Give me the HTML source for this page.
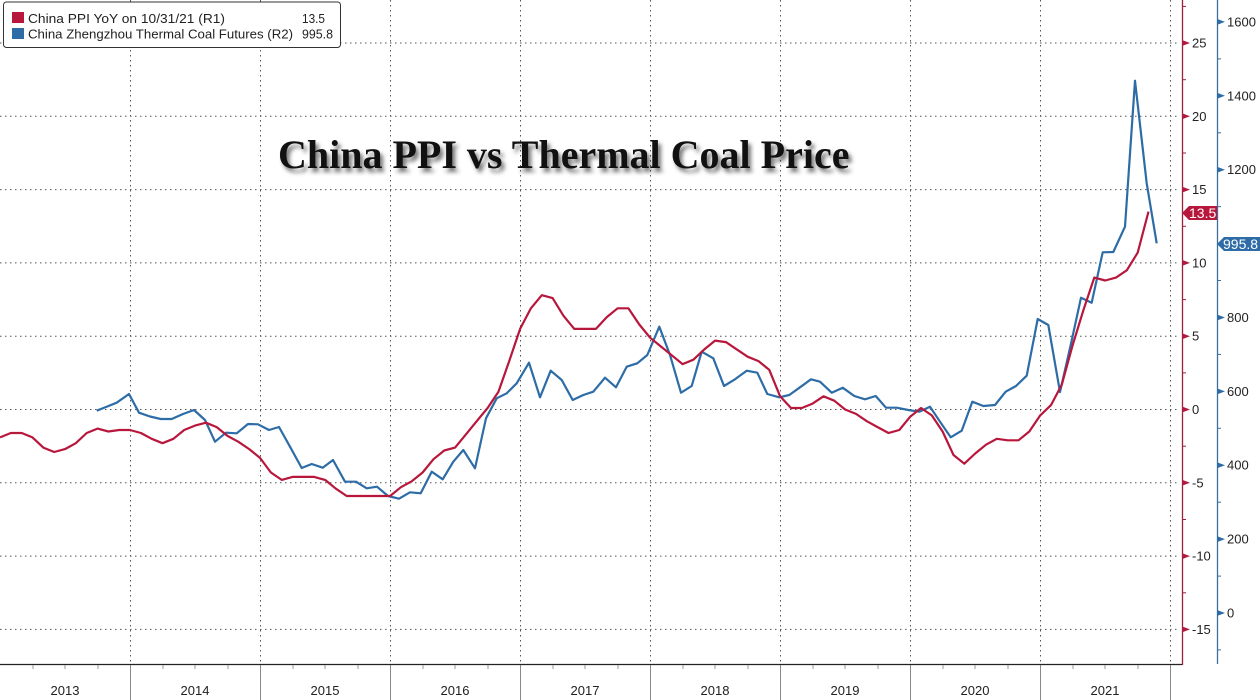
<!DOCTYPE html>
<html>
<head>
<meta charset="utf-8">
<style>
html,body{margin:0;padding:0;background:#fff;}
#wrap{position:relative;width:1260px;height:700px;overflow:hidden;background:#fff;}
svg{position:absolute;left:0;top:0;}
#title{position:absolute;left:278px;top:131px;font-family:"Liberation Serif",serif;font-weight:bold;font-size:40px;color:#111;white-space:nowrap;text-shadow:3px 4px 4px rgba(0,0,0,0.55);letter-spacing:0px;}
</style>
</head>
<body>
<div id="wrap">
<svg width="1260" height="700" viewBox="0 0 1260 700" xmlns="http://www.w3.org/2000/svg">
  <!-- horizontal grid -->
  <g stroke="#555" stroke-width="1" stroke-dasharray="1.5,3.5" fill="none">
    <line x1="0" y1="43" x2="1178" y2="43"/>
    <line x1="0" y1="116.3" x2="1178" y2="116.3"/>
    <line x1="0" y1="189.6" x2="1178" y2="189.6"/>
    <line x1="0" y1="262.9" x2="1178" y2="262.9"/>
    <line x1="0" y1="336.2" x2="1178" y2="336.2"/>
    <line x1="0" y1="409.5" x2="1178" y2="409.5"/>
    <line x1="0" y1="482.8" x2="1178" y2="482.8"/>
    <line x1="0" y1="556.1" x2="1178" y2="556.1"/>
    <line x1="0" y1="629.4" x2="1178" y2="629.4"/>
  </g>
  <!-- vertical grid -->
  <g stroke="#555" stroke-width="1" stroke-dasharray="1.5,3.5" fill="none">
    <line x1="130.5" y1="0" x2="130.5" y2="664"/>
    <line x1="260.5" y1="0" x2="260.5" y2="664"/>
    <line x1="390.5" y1="0" x2="390.5" y2="664"/>
    <line x1="520.5" y1="0" x2="520.5" y2="664"/>
    <line x1="650.5" y1="0" x2="650.5" y2="664"/>
    <line x1="780.5" y1="0" x2="780.5" y2="664"/>
    <line x1="910.5" y1="0" x2="910.5" y2="664"/>
    <line x1="1040.5" y1="0" x2="1040.5" y2="664"/>
    <line x1="1170.5" y1="0" x2="1170.5" y2="664"/>
  </g>

  <!-- blue series -->
  <polyline fill="none" stroke="#2d6ca6" stroke-width="2.2" stroke-linejoin="round" points="
96.7,410.7 106,407 116.7,402.7 129,394 139,412.7 150,416.5 160.7,419 171.7,419 183,414 194,410 205,420 215,441.7 226,432.7 236.7,433.3 248,424 258,424.3 269,430 279,427 290,446.7 301.7,468 311.7,464 322.7,467.7 333,460 345,481.7 356,481.7 366.7,488.3 377,486.7 388,496 399,498.7
410,492.3 420.7,493.3 431.7,471.7 442.7,479.3 453.3,461.7 463.3,450 475,468.3 486,418.3 496.7,398.3 506.7,393.3 516.7,383.3 529,362.7 540,397.3 550.7,370.7 561.7,380 572.7,400 583.3,395 593.3,391.7 605,377.7 616,387.3 626.7,366.7 637.3,363.3 647.3,355 659.3,326.7 670,355 681,392.7 691.7,386 701.7,351.7 713.3,358.3 724,386 735,379.3 746.7,370.7 757.3,372.7 767.3,394 779.3,397.3
789.3,395 800,387.3 811,379.3 820,381.7 831.7,392.7 842.7,387.7 854.3,396 865,399.3 875.7,396 886,407.7 896.7,407.7 908.3,410 919.3,411.7 930,406.7 940,421.7 950.7,437.3 961.7,430.7 972.3,401.7 983.3,406 995,405 1005.7,391.7 1016,386 1026.7,375.7 1037.7,319 1048.3,325 1060,392
1070.7,345 1081,297.7 1091.7,302.7 1102.7,252.3 1113.3,252 1125,226.7 1135,80.7 1146.7,183.3 1156.7,243.3"/>

  <!-- red series -->
  <polyline fill="none" stroke="#b8173c" stroke-width="2.2" stroke-linejoin="round" points="
0,437.4 10.8,433 21.7,433 32.5,437.4 43.3,447.6 54.2,452 65,449.1 75.8,443.2 86.7,433 97.5,428.6 108.4,431.5 119.2,430 130,430
140.9,433 151.7,438.8 162.5,443.2 173.4,438.8 184.2,430 195,425.6 205.9,422.7 216.7,427.1 227.5,435.9 238.4,441.8 249.2,449.1 260,457.9
270.9,472.5 281.7,479.9 292.5,476.9 303.4,476.9 314.2,476.9 325.1,479.9 335.9,488.7 346.7,496 357.6,496 368.4,496 379.2,496 390.1,496
400.9,487.2 411.7,481.3 422.6,472.5 433.4,459.3 444.2,450.5 455.1,447.6 465.9,434.4 476.7,421.2 487.6,408 498.4,391.9 509.2,361.1 520.1,328.9
530.9,308.3 541.8,295.2 552.6,298.1 563.4,315.7 574.3,328.9 585.1,328.9 595.9,328.9 606.8,317.1 617.6,308.3 628.4,308.3 639.3,324.5 650.1,337.7
660.9,346.5 671.8,355.3 682.6,364.1 693.4,359.7 704.3,349.4 715.1,340.6 725.9,342.1 736.8,349.4 747.6,356.7 758.5,361.1 769.3,369.9 780.1,396.3
791,408 801.8,408 812.6,403.6 823.5,396.3 834.3,400.7 845.1,409.5 856,413.9 866.8,421.2 877.6,427.1 888.5,433 899.3,430 910.1,416.8
921,408 931.8,415.4 942.6,431.5 953.5,455 964.3,463.7 975.2,453.5 986,444.7 996.8,438.8 1007.7,440.3 1018.5,440.3 1029.3,431.5 1040.2,415.4
1051,405.1 1061.8,384.6 1072.7,345 1083.5,309.8 1094.3,277.6 1105.2,280.5 1116,277.6 1126.9,270.2 1137.7,252.6 1148.5,211.6"/>

  <!-- bottom axis -->
  <line x1="0" y1="664.5" x2="1182" y2="664.5" stroke="#222" stroke-width="1.2"/>
  <g stroke="#888" stroke-width="1">
    <line x1="130.5" y1="665" x2="130.5" y2="700"/>
    <line x1="260.5" y1="665" x2="260.5" y2="700"/>
    <line x1="390.5" y1="665" x2="390.5" y2="700"/>
    <line x1="520.5" y1="665" x2="520.5" y2="700"/>
    <line x1="650.5" y1="665" x2="650.5" y2="700"/>
    <line x1="780.5" y1="665" x2="780.5" y2="700"/>
    <line x1="910.5" y1="665" x2="910.5" y2="700"/>
    <line x1="1040.5" y1="665" x2="1040.5" y2="700"/>
    <line x1="1170.5" y1="665" x2="1170.5" y2="700"/>
  </g>
  <g stroke="#999" stroke-width="1">
    <line x1="33" y1="665" x2="33" y2="669"/><line x1="65" y1="665" x2="65" y2="669"/><line x1="98" y1="665" x2="98" y2="669"/>
    <line x1="163" y1="665" x2="163" y2="669"/><line x1="195" y1="665" x2="195" y2="669"/><line x1="228" y1="665" x2="228" y2="669"/>
    <line x1="293" y1="665" x2="293" y2="669"/><line x1="325" y1="665" x2="325" y2="669"/><line x1="358" y1="665" x2="358" y2="669"/>
    <line x1="423" y1="665" x2="423" y2="669"/><line x1="455" y1="665" x2="455" y2="669"/><line x1="488" y1="665" x2="488" y2="669"/>
    <line x1="553" y1="665" x2="553" y2="669"/><line x1="585" y1="665" x2="585" y2="669"/><line x1="618" y1="665" x2="618" y2="669"/>
    <line x1="683" y1="665" x2="683" y2="669"/><line x1="715" y1="665" x2="715" y2="669"/><line x1="748" y1="665" x2="748" y2="669"/>
    <line x1="813" y1="665" x2="813" y2="669"/><line x1="845" y1="665" x2="845" y2="669"/><line x1="878" y1="665" x2="878" y2="669"/>
    <line x1="943" y1="665" x2="943" y2="669"/><line x1="975" y1="665" x2="975" y2="669"/><line x1="1008" y1="665" x2="1008" y2="669"/>
    <line x1="1073" y1="665" x2="1073" y2="669"/><line x1="1105" y1="665" x2="1105" y2="669"/><line x1="1138" y1="665" x2="1138" y2="669"/>
  </g>
  <g font-family="Liberation Sans, sans-serif" font-size="13" fill="#222" text-anchor="middle">
    <text x="65" y="695">2013</text>
    <text x="195" y="695">2014</text>
    <text x="325" y="695">2015</text>
    <text x="455" y="695">2016</text>
    <text x="585" y="695">2017</text>
    <text x="715" y="695">2018</text>
    <text x="845" y="695">2019</text>
    <text x="975" y="695">2020</text>
    <text x="1105" y="695">2021</text>
  </g>

  <!-- red right axis -->
  <line x1="1182.5" y1="0" x2="1182.5" y2="665" stroke="#9e1f3d" stroke-width="1.3"/>
  <g stroke="#9e1f3d" stroke-width="1">
    <line x1="1182" y1="6.4" x2="1186" y2="6.4"/>
    <line x1="1182" y1="79.7" x2="1186" y2="79.7"/>
    <line x1="1182" y1="153" x2="1186" y2="153"/>
    <line x1="1182" y1="226.3" x2="1186" y2="226.3"/>
    <line x1="1182" y1="299.6" x2="1186" y2="299.6"/>
    <line x1="1182" y1="372.9" x2="1186" y2="372.9"/>
    <line x1="1182" y1="446.2" x2="1186" y2="446.2"/>
    <line x1="1182" y1="519.5" x2="1186" y2="519.5"/>
    <line x1="1182" y1="592.8" x2="1186" y2="592.8"/>
  </g>
  <g fill="#b01a3e">
    <polygon points="1182,40 1190,43 1182,46"/>
    <polygon points="1182,113.3 1190,116.3 1182,119.3"/>
    <polygon points="1182,186.6 1190,189.6 1182,192.6"/>
    <polygon points="1182,259.9 1190,262.9 1182,265.9"/>
    <polygon points="1182,333.2 1190,336.2 1182,339.2"/>
    <polygon points="1182,406.5 1190,409.5 1182,412.5"/>
    <polygon points="1182,479.8 1190,482.8 1182,485.8"/>
    <polygon points="1182,553.1 1190,556.1 1182,559.1"/>
    <polygon points="1182,626.4 1190,629.4 1182,632.4"/>
  </g>
  <g font-family="Liberation Sans, sans-serif" font-size="13" fill="#222">
    <text x="1192" y="47.5">25</text>
    <text x="1192" y="120.8">20</text>
    <text x="1192" y="194.1">15</text>
    <text x="1192" y="267.4">10</text>
    <text x="1192" y="340.7">5</text>
    <text x="1192" y="414">0</text>
    <text x="1192" y="487.3">-5</text>
    <text x="1192" y="560.6">-10</text>
    <text x="1192" y="633.9">-15</text>
  </g>

  <!-- blue right axis -->
  <line x1="1217.5" y1="0" x2="1217.5" y2="664" stroke="#3c6e9a" stroke-width="1.3"/>
  <g stroke="#3c6e9a" stroke-width="1">
    <line x1="1217" y1="58.9" x2="1221" y2="58.9"/>
    <line x1="1217" y1="132.8" x2="1221" y2="132.8"/>
    <line x1="1217" y1="206.7" x2="1221" y2="206.7"/>
    <line x1="1217" y1="280.5" x2="1221" y2="280.5"/>
    <line x1="1217" y1="354.4" x2="1221" y2="354.4"/>
    <line x1="1217" y1="428.3" x2="1221" y2="428.3"/>
    <line x1="1217" y1="502.2" x2="1221" y2="502.2"/>
    <line x1="1217" y1="576.1" x2="1221" y2="576.1"/>
    <line x1="1217" y1="649.9" x2="1221" y2="649.9"/>
  </g>
  <g fill="#2d6ca6">
    <polygon points="1217,18.9 1225,21.9 1217,24.9"/>
    <polygon points="1217,92.8 1225,95.8 1217,98.8"/>
    <polygon points="1217,166.7 1225,169.7 1217,172.7"/>
    <polygon points="1217,314.5 1225,317.5 1217,320.5"/>
    <polygon points="1217,388.4 1225,391.4 1217,394.4"/>
    <polygon points="1217,462.2 1225,465.2 1217,468.2"/>
    <polygon points="1217,536.1 1225,539.1 1217,542.1"/>
    <polygon points="1217,610 1225,613 1217,616"/>
  </g>
  <g font-family="Liberation Sans, sans-serif" font-size="13" fill="#222">
    <text x="1227" y="26.4">1600</text>
    <text x="1227" y="100.3">1400</text>
    <text x="1227" y="174.2">1200</text>
    <text x="1227" y="322">800</text>
    <text x="1227" y="395.9">600</text>
    <text x="1227" y="469.7">400</text>
    <text x="1227" y="543.6">200</text>
    <text x="1227" y="617.5">0</text>
  </g>

  <!-- value tags -->
  <polygon points="1182,213 1189,206 1217,206 1217,220 1189,220" fill="#b8173c"/>
  <text x="1189" y="218" font-family="Liberation Sans, sans-serif" font-size="14" fill="#fff">13.5</text>
  <polygon points="1217,244 1224,237 1260,237 1260,251 1224,251" fill="#2d6ca6"/>
  <text x="1223" y="249" font-family="Liberation Sans, sans-serif" font-size="14" fill="#fff">995.8</text>

  <!-- legend -->
  <rect x="3.5" y="2" width="337" height="45.5" rx="3" ry="3" fill="#fff" stroke="#333" stroke-width="1"/>
  <rect x="12" y="12" width="12" height="11" fill="#b8173c"/>
  <rect x="12" y="28" width="12" height="11" fill="#2d6ca6"/>
  <g font-family="Liberation Sans, sans-serif" font-size="13" fill="#222">
    <text x="28" y="23" textLength="197" lengthAdjust="spacingAndGlyphs">China PPI YoY on 10/31/21 (R1)</text>
    <text x="28" y="38.3" textLength="265" lengthAdjust="spacingAndGlyphs">China Zhengzhou Thermal Coal Futures (R2)</text>
    <text x="302" y="23" textLength="23" lengthAdjust="spacingAndGlyphs">13.5</text>
    <text x="302" y="38.3" textLength="31" lengthAdjust="spacingAndGlyphs">995.8</text>
  </g>
</svg>
<div id="title">China PPI vs Thermal Coal Price</div>
</div>
</body>
</html>
